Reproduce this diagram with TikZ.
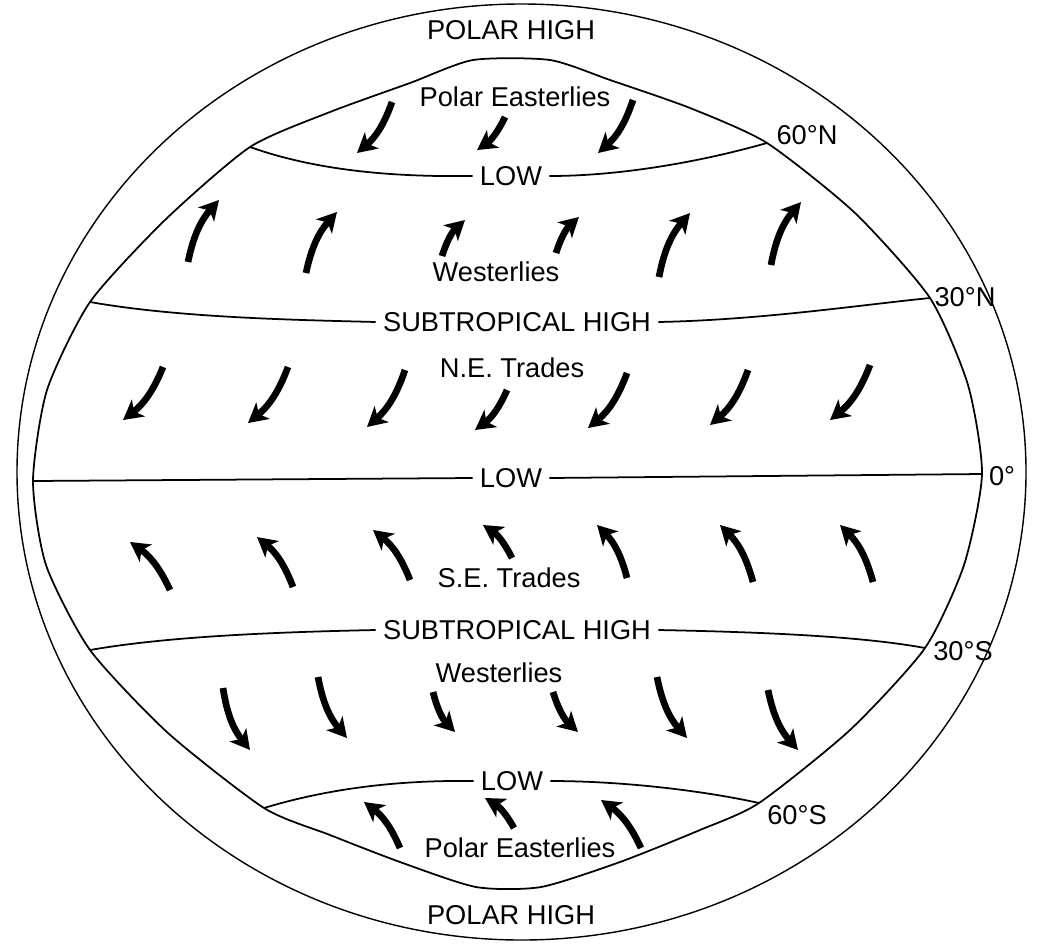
\documentclass[tikz,border=0pt]{standalone}
\usepackage{fontspec}
\setmainfont{Liberation Sans}
\usetikzlibrary{arrows.meta}
\begin{document}
\begin{tikzpicture}[x=0.02cm,y=-0.02cm,
  zone/.style={line width=1pt},
  wind/.style={line width=3.8pt, -{Stealth[length=11pt,width=12pt,inset=3pt]}},
  lbl/.style={font=\fontsize{15.5}{18}\selectfont, inner xsep=4pt, inner ysep=1pt},
  lat/.style={font=\fontsize{15.5}{18}\selectfont, inner sep=1pt}]
\useasboundingbox (0,0) rectangle (1043,943);
\draw[line width=0.8pt] (521.5,472) ellipse [x radius=504.5, y radius=468];
\coordinate (n60w) at (250,147);
\coordinate (n60e) at (767,143);
\coordinate (n30w) at (90,302);
\coordinate (n30e) at (930,298);
\coordinate (eqw) at (33,481);
\coordinate (eqe) at (982,474);
\coordinate (s30w) at (90,650);
\coordinate (s30e) at (925,648);
\coordinate (s60w) at (264,808);
\coordinate (s60e) at (759,803);
\draw[zone] plot[smooth cycle, tension=0.4] coordinates {(473,60) (550,60) (610,80) (690,108) (767,143) (855,213) (930,298) (968,385) (982,474) (964,565) (925,648) (850,730) (759,803) (700,830) (620,862) (541,887) (476,887) (400,862) (330,835) (264,808) (168,733) (90,650) (46,565) (33,481) (47,390) (90,302) (165,220) (250,147) (330,112) (410,83)};
\node[lbl] (polarN) at (511,30) {POLAR HIGH};
\node[lbl] (eastN) at (515,97) {Polar Easterlies};
\node[lbl] (lowN) at (511,176) {LOW};
\node[lbl] (westN) at (496,272) {Westerlies};
\node[lbl] (highN) at (517,322) {SUBTROPICAL HIGH};
\node[lbl] (tradeN) at (512,368) {N.E. Trades};
\node[lbl] (lowEq) at (511,478) {LOW};
\node[lbl] (tradeS) at (509,578) {S.E. Trades};
\node[lbl] (highS) at (517,630) {SUBTROPICAL HIGH};
\node[lbl] (westS) at (499,673) {Westerlies};
\node[lbl] (lowS) at (512,781) {LOW};
\node[lbl] (eastS) at (520,848) {Polar Easterlies};
\node[lbl] (polarS) at (511,915) {POLAR HIGH};
\node[lat] (l60n) at (807,135) {60°N};
\node[lat] (l30n) at (965,297) {30°N};
\node[lat] (l0) at (1002,476) {0°};
\node[lat] (l30s) at (963,651) {30°S};
\node[lat] (l60s) at (797,815) {60°S};
\draw[zone] (n60w) .. controls (320,172) and (400,177) .. (lowN.west);
\draw[zone] (lowN.east) .. controls (620,176) and (700,162) .. (n60e);
\draw[zone] (n30w) .. controls (180,318) and (300,320) .. (highN.west);
\draw[zone] (highN.east) .. controls (760,320) and (860,305) .. (n30e);
\draw[zone] (eqw) -- (lowEq.west);
\draw[zone] (lowEq.east) -- (eqe);
\draw[zone] (s30w) .. controls (170,636) and (280,632) .. (highS.west);
\draw[zone] (highS.east) .. controls (760,632) and (860,636) .. (s30e);
\draw[zone] (s60w) .. controls (330,788) and (400,780) .. (lowS.west);
\draw[zone] (lowS.east) .. controls (620,781) and (700,790) .. (s60e);
\draw[wind] (392,102) to[bend left=15] (357,153);
\draw[wind] (505,117) to[bend left=15] (477,150);
\draw[wind] (633,100) to[bend left=15] (598,153);
\draw[wind] (188,262) to[bend left=15] (219,200);
\draw[wind] (306,273) to[bend left=15] (337,212);
\draw[wind] (442,256) to[bend left=15] (465,220);
\draw[wind] (556,253) to[bend left=15] (579,217);
\draw[wind] (659,277) to[bend left=15] (690,213);
\draw[wind] (771,265) to[bend left=15] (801,202);
\draw[wind] (163,367) to[bend left=15] (123,420);
\draw[wind] (288,367) to[bend left=15] (248,423);
\draw[wind] (405,370) to[bend left=15] (367,427);
\draw[wind] (507,390) to[bend left=15] (475,430);
\draw[wind] (627,373) to[bend left=15] (588,428);
\draw[wind] (748,370) to[bend left=15] (710,425);
\draw[wind] (870,365) to[bend left=15] (830,420);
\draw[wind] (170,590) to[bend right=15] (130,542);
\draw[wind] (293,587) to[bend right=15] (257,537);
\draw[wind] (410,580) to[bend right=15] (373,530);
\draw[wind] (512,558) to[bend right=15] (483,525);
\draw[wind] (627,578) to[bend right=15] (597,525);
\draw[wind] (753,582) to[bend right=15] (720,525);
\draw[wind] (873,582) to[bend right=15] (840,525);
\draw[wind] (223,688) to[bend right=15] (250,750);
\draw[wind] (318,677) to[bend right=15] (347,738);
\draw[wind] (433,692) to[bend right=15] (455,732);
\draw[wind] (553,692) to[bend right=15] (578,732);
\draw[wind] (657,677) to[bend right=15] (687,738);
\draw[wind] (768,690) to[bend right=15] (798,750);
\draw[wind] (400,848) to[bend right=15] (364,802);
\draw[wind] (514,828) to[bend right=15] (485,798);
\draw[wind] (641,848) to[bend right=15] (601,800);
\end{tikzpicture}
\end{document}
